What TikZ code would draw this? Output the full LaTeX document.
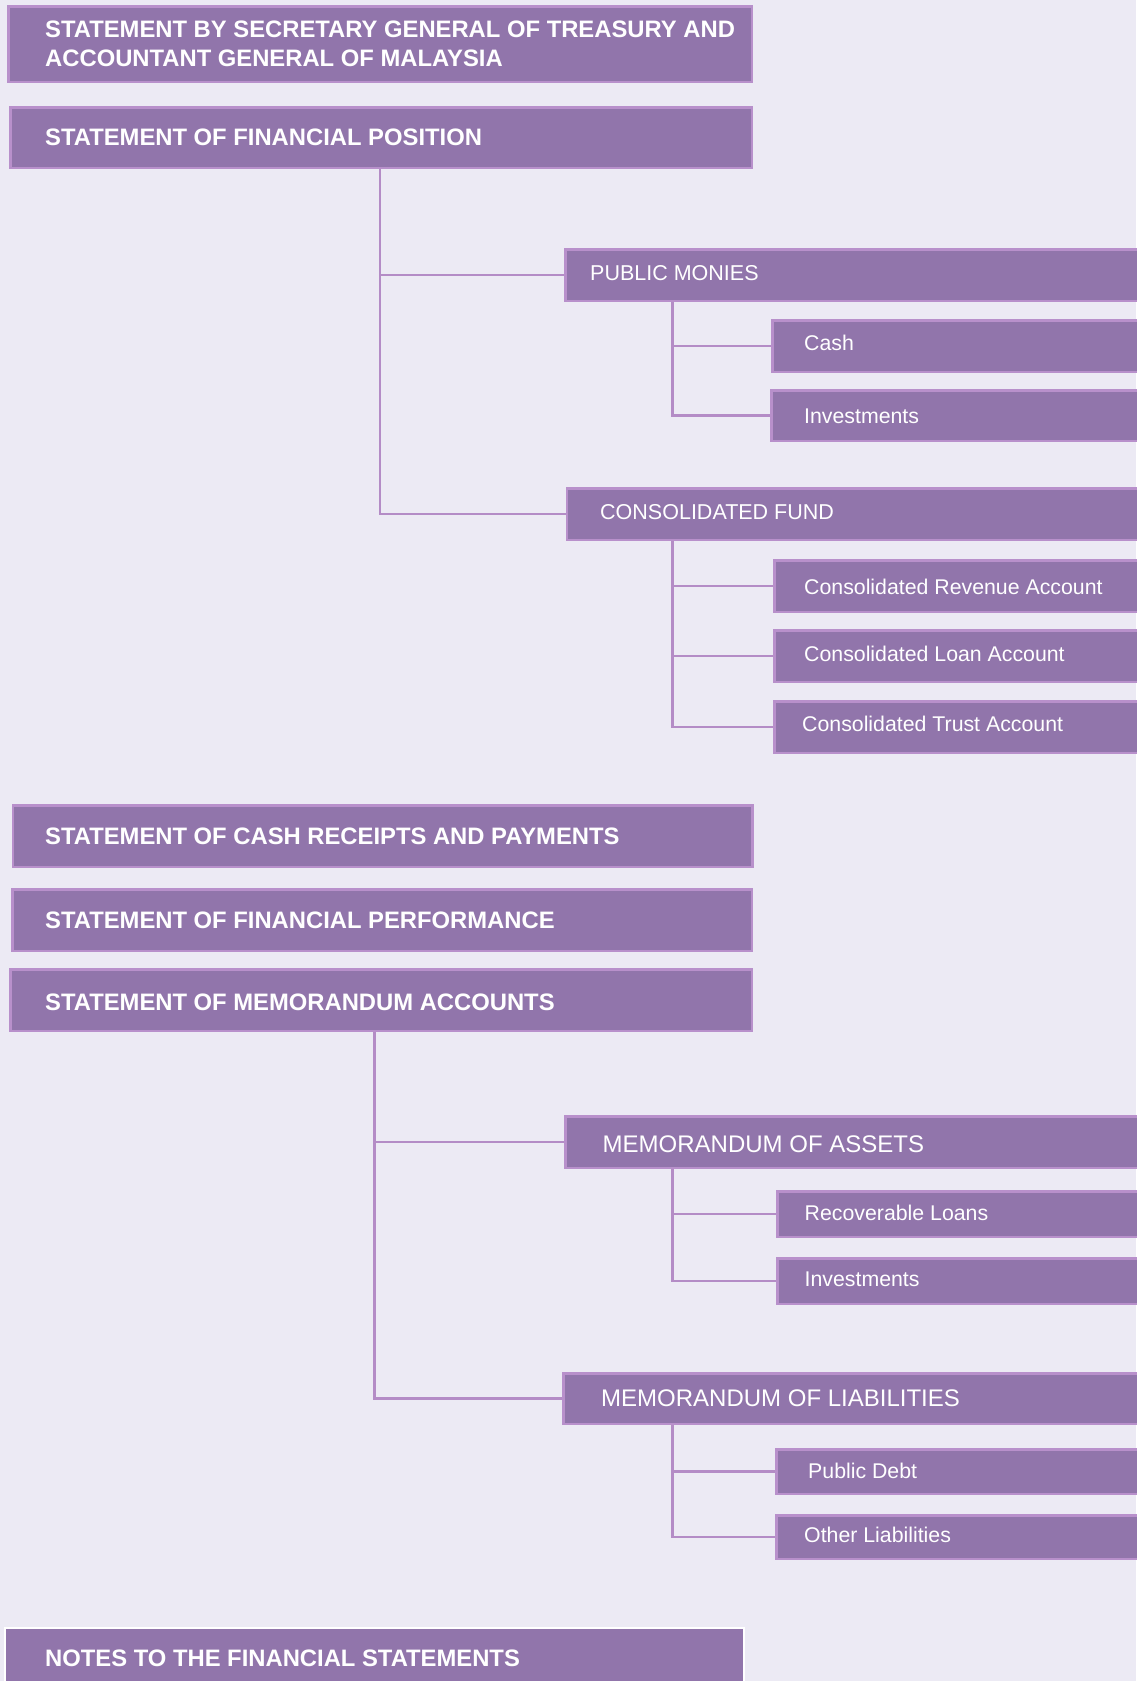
\documentclass[tikz,border=0pt]{standalone}
\usepackage{fontspec}
\setmainfont{Liberation Sans}
\definecolor{bgc}{HTML}{ECEAF4}
\definecolor{boxfill}{HTML}{9175AB}
\definecolor{boxedge}{HTML}{B890CB}
\definecolor{linec}{HTML}{B48CC6}
\pgfdeclarelayer{bgl}
\pgfdeclarelayer{lines}
\pgfsetlayers{bgl,lines,main}
\tikzset{
  box/.style={rectangle, draw=boxedge, fill=boxfill, line width=2.5pt, inner sep=0pt, outer sep=0pt},
  notebox/.style={box, draw=white},
  conn/.style={draw=linec, line width=2.8pt},
  txt/.style={text=white, inner sep=0pt, anchor=base west},
  hdr/.style={txt, font=\bfseries\fontsize{23.8}{29}\selectfont},
  lvA/.style={txt, font=\fontsize{21.5}{25}\selectfont},
  lvM/.style={txt, font=\fontsize{24}{28}\selectfont},
  lvB/.style={txt, font=\fontsize{21.3}{25}\selectfont},
}
\newcommand\mkbox[6][box]{%
  \node[#1, minimum width={#5-#3-2.5}, minimum height={#6-#4-2.5}] (#2) at ({(#3+#5)/2},{(#4+#6)/2}) {};}
\begin{document}
\begin{tikzpicture}[x=1pt,y=-1pt]
\begin{pgfonlayer}{bgl}
  \fill[bgc] (0,0) rectangle (1136,1681);
\end{pgfonlayer}
\useasboundingbox (0,0) rectangle (1136,1681);

% top-level boxes
\mkbox{b1}{7}{5}{753}{83}
\node[hdr, anchor=north west, align=left] (b1t) at (45,21) {STATEMENT BY SECRETARY GENERAL OF TREASURY AND\\ACCOUNTANT GENERAL OF MALAYSIA};
\mkbox{b2}{9}{106}{753}{169}
\node[hdr] (b2t) at (45,145) {STATEMENT OF FINANCIAL POSITION};

% Public monies
\mkbox{pm}{564}{248}{1145}{302}
\node[lvA] (pmt) at (590,280.7) {PUBLIC MONIES};
\mkbox{cash}{771}{319}{1145}{373}
\node[lvB] (casht) at (804,350) {Cash};
\mkbox{inva}{770}{389}{1145}{442}
\node[lvB] (invat) at (804,423.3) {Investments};

% Consolidated fund
\mkbox{cf}{565.5}{487}{1145}{541}
\node[lvA] (cft) at (600,519.3) {CONSOLIDATED FUND};
\mkbox{cra}{773}{559}{1145}{613}
\node[lvB] (crat) at (804,594) {Consolidated Revenue Account};
\mkbox{cla}{773}{629}{1145}{683}
\node[lvB] (clat) at (804,661.7) {Consolidated Loan Account};
\mkbox{cta}{773}{700}{1145}{754}
\node[lvB] (ctat) at (802,731.7) {Consolidated Trust Account};

% Other statements
\mkbox{crp}{11.6}{804}{753.5}{868}
\node[hdr] (crpt) at (45,844) {STATEMENT OF CASH RECEIPTS AND PAYMENTS};
\mkbox{fp}{11}{888}{753}{952}
\node[hdr] (fpt) at (45,928) {STATEMENT OF FINANCIAL PERFORMANCE};
\mkbox{ma}{9}{968}{753}{1032}
\node[hdr] (mat) at (45,1010.7) {STATEMENT OF MEMORANDUM ACCOUNTS};

% Memorandum of assets
\mkbox{moa}{564}{1115}{1145}{1169}
\node[lvM] (moat) at (602.5,1152.3) {MEMORANDUM OF ASSETS};
\mkbox{rl}{776}{1190}{1145}{1238}
\node[lvB] (rlt) at (804.5,1220.7) {Recoverable Loans};
\mkbox{invb}{776}{1257}{1145}{1305}
\node[lvB] (invbt) at (804.5,1286) {Investments};

% Memorandum of liabilities
\mkbox{mol}{562}{1372}{1145}{1425}
\node[lvM] (molt) at (601,1406.7) {MEMORANDUM OF LIABILITIES};
\mkbox{pd}{775}{1448}{1145}{1495}
\node[lvB] (pdt) at (808,1478.3) {Public Debt};
\mkbox{ol}{775}{1514}{1145}{1560}
\node[lvB] (olt) at (804,1542.7) {Other Liabilities};

% Notes
\mkbox[notebox]{notes}{3.6}{1626.7}{745}{1695}
\node[hdr] (notest) at (45,1666) {NOTES TO THE FINANCIAL STATEMENTS};

% connectors
\coordinate (s1) at ([xshift=-1pt]b2.south);
\coordinate (s2) at ([xshift=-6.5pt]ma.south);
\coordinate (spm) at ([xshift=107pt]pm.south west);
\coordinate (scf) at ([xshift=105.5pt]cf.south west);
\coordinate (smoa) at ([xshift=107pt]moa.south west);
\coordinate (smol) at ([xshift=109pt]mol.south west);
\begin{pgfonlayer}{lines}
  \draw[conn] (s1) |- (cf.west);
  \draw[conn] (s1 |- pm.west) -- (pm.west);
  \draw[conn] (spm) |- (inva.west);
  \draw[conn] (spm |- cash.west) -- (cash.west);
  \draw[conn] (scf) |- (cta.west);
  \draw[conn] (scf |- cra.west) -- (cra.west);
  \draw[conn] (scf |- cla.west) -- (cla.west);
  \draw[conn] (s2) |- (mol.west);
  \draw[conn] (s2 |- moa.west) -- (moa.west);
  \draw[conn] (smoa) |- (invb.west);
  \draw[conn] (smoa |- rl.west) -- (rl.west);
  \draw[conn] (smol) |- (ol.west);
  \draw[conn] (smol |- pd.west) -- (pd.west);
\end{pgfonlayer}
\end{tikzpicture}
\end{document}
